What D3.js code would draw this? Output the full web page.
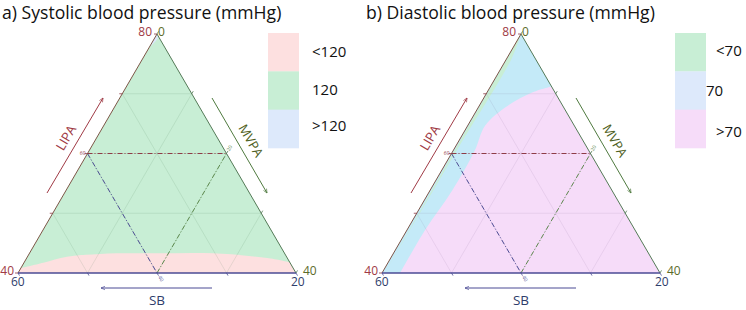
<!DOCTYPE html>
<html>
<head>
<meta charset="utf-8">
<script src="https://cdn.jsdelivr.net/npm/d3@7"></script>
<style>
  body { margin: 0; background: #fff; }
  svg { display: block; font-family: "Open Sans", sans-serif; }
</style>
</head>
<body>
<div id="chart"></div>
<script>
// Ternary compositions are [SB, LIPA, MVPA] in % of the day
const titles = ['a) Systolic blood pressure (mmHg)', 'b) Diastolic blood pressure (mmHg)'];
const lipaRange = [40, 80];
const mvpaRange = [0, 40];
const sbRange = [20, 60];
const gridLipa = [50, 60, 70];
const gridMvpa = [10, 20, 30];
const gridSb = [30, 40, 50];
const refLipa = 60, refMvpa = 20, refSb = 40;

// a) SBP: main fill "120", band below "<120", sliver at apex ">120"
const sbpLegend = ['<120', '120', '>120'];
const sbpLowBoundary = [
  [59.2, 40.8, 0], [55.5, 41.7, 2.8], [51.6, 42.7, 5.7], [46.6, 43.2, 10.2],
  [38.4, 43.3, 18.3], [30.3, 43.3, 26.4], [22.9, 42.5, 34.6], [20, 41.8, 38.2]
];
const sbpHighBoundary = [[20, 80, 0], [20.04, 79.5, 0.46], [20.8, 78.8, 0.4], [22.2, 77.8, 0]];

// b) DBP: main fill ">70", band on the left "70", thin sliver "<70"
const dbpLegend = ['<70', '70', '>70'];
const dbpMidBoundary = [
  [20, 71.2, 8.8], [23.3, 70.2, 6.5], [27.9, 68, 4.1], [32.8, 64.7, 2.5],
  [36.4, 60.5, 3.1], [43, 53.8, 3.2], [50.2, 47.2, 2.6], [57.4, 40, 2.6]
];
const dbpLowBoundary = [[20, 80, 0], [23.3, 76, 0.7], [39.5, 60, 0.5], [59.6, 40, 0.4]];

const W = 746, H = 310;
const svg = d3.select('#chart').append('svg').attr('width', W).attr('height', H);

// scales: LIPA sets height, MVPA moves along the base
const yS = d3.scaleLinear().domain(lipaRange).range([273, 34]);
const mS = d3.scaleLinear().domain(mvpaRange).range([0, 278]);
const hS = d3.scaleLinear().domain(lipaRange).range([0, 139]);
const pt = c => [18 + mS(c[2]) + hS(c[1]), yS(c[1])];
const line = d3.line().x(d => pt(d)[0]).y(d => pt(d)[1]);
const curve = d3.line().x(d => pt(d)[0]).y(d => pt(d)[1]).curve(d3.curveCatmullRom.alpha(0.5));

// smooth boundary, then straight along the triangle edges through the given corners
const regionPath = (boundary, corners) =>
  curve(boundary) + corners.map(c => 'L' + pt(c).join(',')).join('') + 'Z';

const A = [20, 80, 0], L = [60, 40, 0], R = [20, 40, 40];

function drawPanel(ox, cfg) {
  const g = svg.append('g').attr('transform', `translate(${ox},0)`);

  svg.append('text').attr('x', ox + cfg.titleX).attr('y', 18.5)
    .style('font-size', '17.6px').attr('fill', '#111').text(cfg.title);

  g.append('path').attr('d', line([A, L, R]) + 'Z').attr('fill', cfg.base);
  cfg.regions.forEach(r => {
    g.append('path').attr('d', regionPath(r.pts, r.corners)).attr('fill', r.color);
  });

  // grid
  const grid = g.append('g').attr('stroke', cfg.grid).attr('stroke-width', 0.8).attr('fill', 'none');
  gridLipa.forEach(v => grid.append('path').attr('d', line([[100 - v, v, 0], [20, v, 80 - v]])));
  gridMvpa.forEach(v => grid.append('path').attr('d', line([[60 - v, 40, v], [20, 80 - v, v]])));
  gridSb.forEach(v => grid.append('path').attr('d', line([[v, 100 - v, 0], [v, 40, 60 - v]])));

  // reference lines
  const dash = '5,2,1,2';
  g.append('path').attr('d', line([[refSb, refLipa, 0], [20, refLipa, refMvpa]]))
    .attr('stroke', '#8e3b47').attr('stroke-dasharray', dash).attr('fill', 'none');
  g.append('path').attr('d', line([[refSb, refLipa, 0], [refSb, 40, refMvpa]]))
    .attr('stroke', '#4f4f95').attr('stroke-dasharray', dash).attr('fill', 'none');
  g.append('path').attr('d', line([[refSb, 40, refMvpa], [20, refLipa, refMvpa]]))
    .attr('stroke', '#5f8a4f').attr('stroke-dasharray', dash).attr('fill', 'none');
  const pL = pt([refSb, refLipa, 0]), pR = pt([20, refLipa, refMvpa]), pB = pt([refSb, 40, refMvpa]);
  g.append('text').attr('x', pL[0] - 2).attr('y', pL[1] + 1.5).attr('text-anchor', 'end')
    .style('font-size', '5px').attr('fill', '#8e3b47').text(refLipa);
  g.append('text').attr('transform', `translate(${pR[0] + 3},${pR[1] - 2}) rotate(-60)`)
    .style('font-size', '5px').attr('fill', '#5f8a4f').text(refMvpa);
  g.append('text').attr('transform', `translate(${pB[0] + 1},${pB[1] + 4}) rotate(60)`)
    .style('font-size', '5px').attr('fill', '#4f4f95').text(refSb);

  // edges
  g.append('path').attr('d', line([L, A])).attr('stroke', '#7d5647').attr('stroke-width', 1).attr('fill', 'none');
  g.append('path').attr('d', line([A, R])).attr('stroke', '#547a57').attr('stroke-width', 1).attr('fill', 'none');
  g.append('path').attr('d', line([L, R])).attr('stroke', '#4b4b94').attr('stroke-width', 1.3).attr('fill', 'none');

  // small ticks
  const tk = g.append('g').attr('stroke-width', 0.8);
  d3.range(lipaRange[0], lipaRange[1] + 1, 10).forEach(v => {
    const p = pt([100 - v, v, 0]);
    tk.append('line').attr('x1', p[0] - 3).attr('x2', p[0]).attr('y1', p[1]).attr('y2', p[1]).attr('stroke', '#8e3b47');
  });
  d3.range(mvpaRange[0], mvpaRange[1] + 1, 10).forEach(v => {
    const p = pt([20, 80 - v, v]);
    tk.append('line').attr('x1', p[0]).attr('x2', p[0] + 1.5).attr('y1', p[1]).attr('y2', p[1] - 2.6).attr('stroke', '#547a57');
  });
  d3.range(sbRange[0], sbRange[1] + 1, 10).forEach(v => {
    const p = pt([v, 40, 60 - v]);
    tk.append('line').attr('x1', p[0]).attr('x2', p[0] + 1.5).attr('y1', p[1]).attr('y2', p[1] + 2.6).attr('stroke', '#4b4b94');
  });

  // vertex labels
  const pA = pt(A), pLv = pt(L), pRv = pt(R);
  const lab = (x, y, t, c, anchor) => g.append('text').attr('x', x).attr('y', y)
    .attr('text-anchor', anchor || 'start').style('font-size', '12px').attr('fill', c).text(t);
  lab(pA[0] - 5, pA[1] + 2, lipaRange[1], '#a03a45', 'end');
  lab(pA[0] + 1, pA[1] + 2, mvpaRange[0], '#5c6b2a');
  lab(pLv[0] - 4, pLv[1] + 2, lipaRange[0], '#a03a45', 'end');
  lab(pLv[0] - 7, pLv[1] + 13, sbRange[1], '#2f3d6b');
  lab(pRv[0] + 7, pRv[1] + 2, mvpaRange[1], '#5c6b2a');
  lab(pRv[0] - 5, pRv[1] + 13, sbRange[0], '#2f3d6b');

  // axis arrows
  const defs = svg.select('defs').empty() ? svg.append('defs') : svg.select('defs');
  [['lipa', '#a03a45'], ['mvpa', '#4f7a3f'], ['sb', '#4b4b94']].forEach(([k, c]) => {
    if (!defs.select('#ah-' + k).empty()) return;
    defs.append('marker').attr('id', 'ah-' + k).attr('viewBox', '0 0 10 10').attr('refX', 9).attr('refY', 5)
      .attr('markerWidth', 5).attr('markerHeight', 5).attr('orient', 'auto')
      .append('path').attr('d', 'M1,1.5 L9,5 L1,8.5').attr('fill', 'none').attr('stroke', c).attr('stroke-width', 1.3);
  });
  const arrow = (x1, y1, x2, y2, c, k) => g.append('line').attr('x1', x1).attr('y1', y1).attr('x2', x2).attr('y2', y2)
    .attr('stroke', c).attr('stroke-width', 1).attr('marker-end', `url(#ah-${k})`);
  arrow(47, 193, 103, 98, '#a03a45', 'lipa');
  arrow(212, 98, 267, 193, '#4f7a3f', 'mvpa');
  arrow(212, 288, 101, 288, '#4b4b94', 'sb');
  g.append('text').attr('transform', 'translate(70,140) rotate(-59.5)').attr('text-anchor', 'middle')
    .style('font-size', '13px').attr('fill', '#a03a45').text('LIPA');
  g.append('text').attr('transform', 'translate(247,143) rotate(59.5)').attr('text-anchor', 'middle')
    .style('font-size', '13px').attr('fill', '#4f5f24').text('MVPA');
  g.append('text').attr('x', 157).attr('y', 305).attr('text-anchor', 'middle')
    .style('font-size', '13.5px').attr('fill', '#2f3d6b').text('SB');

  // legend
  const lg = svg.append('g');
  const bh = 115 / 3;
  cfg.legend.forEach((t, i) => {
    lg.append('rect').attr('x', cfg.legendX).attr('y', 33 + i * bh).attr('width', 31).attr('height', bh + 0.3)
      .attr('fill', cfg.legendColors[i]);
    lg.append('text').attr('x', cfg.labelX[i]).attr('y', cfg.labelY[i])
      .style('font-size', '15px').attr('fill', '#111').text(t);
  });
}

drawPanel(0, {
  title: titles[0], titleX: 2,
  base: '#c8eed5', grid: 'rgba(60,110,70,0.15)',
  regions: [
    { pts: sbpLowBoundary, corners: [R, L], color: '#fde0e0' },
    { pts: sbpHighBoundary, corners: [], color: '#dbe7fb' }
  ],
  legend: sbpLegend, legendX: 268,
  legendColors: ['#fde0e0', '#c8eed5', '#dde9fb'],
  labelX: [312, 312, 312], labelY: [57, 95, 131]
});

drawPanel(364, {
  title: titles[1], titleX: 2,
  base: '#f6dcf9', grid: 'rgba(110,80,130,0.13)',
  regions: [
    { pts: dbpMidBoundary, corners: [L, A], color: '#c4eaf8' },
    { pts: dbpLowBoundary, corners: [], color: '#c8eed5' }
  ],
  legend: dbpLegend, legendX: 675,
  legendColors: ['#c8eed5', '#dde9fb', '#f6dcf9'],
  labelX: [716, 706, 716], labelY: [56, 96, 137]
});
</script>
</body>
</html>
